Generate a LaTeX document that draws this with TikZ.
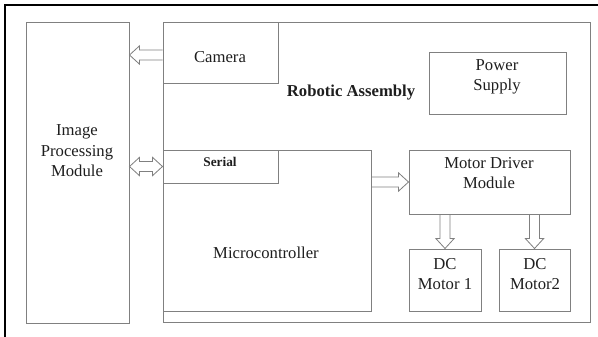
\documentclass[tikz,border=0pt]{standalone}
\usepackage{fontspec}
\setmainfont{Liberation Serif}
\usetikzlibrary{calc}
\definecolor{boxgray}{RGB}{128,128,128}
\definecolor{txtdark}{RGB}{30,30,30}

\begin{document}
\begin{tikzpicture}[x=0.6pt, y=-0.6pt,
         box/.style={draw=boxgray, line width=0.6pt, rectangle, inner sep=0pt},
         box text/.style={font=\fontsize{10}{12.3}\selectfont, text=txtdark, align=center},
         hollow arrow/.style={draw=boxgray, line width=0.5pt, line join=miter,
            to path={($(\tikztostart)!3pt!90:(\tikztotarget)$)
               -- ($(\tikztotarget)!6pt!(\tikztostart)!3pt!90:(\tikztotarget)$)
               -- ($(\tikztotarget)!6pt!(\tikztostart)!5.5pt!90:(\tikztotarget)$)
               -- (\tikztotarget)
               -- ($(\tikztotarget)!6pt!(\tikztostart)!5.5pt!-90:(\tikztotarget)$)
               -- ($(\tikztotarget)!6pt!(\tikztostart)!3pt!-90:(\tikztotarget)$)
               -- ($(\tikztostart)!3pt!-90:(\tikztotarget)$)}},
         hollow both/.style={draw=boxgray, line width=0.5pt, line join=miter,
            to path={(\tikztostart)
               -- ($(\tikztostart)!6pt!(\tikztotarget)!5.5pt!90:(\tikztotarget)$)
               -- ($(\tikztostart)!6pt!(\tikztotarget)!3pt!90:(\tikztotarget)$)
               -- ($(\tikztotarget)!6pt!(\tikztostart)!3pt!-90:(\tikztostart)$)
               -- ($(\tikztotarget)!6pt!(\tikztostart)!5.5pt!-90:(\tikztostart)$)
               -- (\tikztotarget)
               -- ($(\tikztotarget)!6pt!(\tikztostart)!5.5pt!90:(\tikztostart)$)
               -- ($(\tikztotarget)!6pt!(\tikztostart)!3pt!90:(\tikztostart)$)
               -- ($(\tikztostart)!6pt!(\tikztotarget)!3pt!-90:(\tikztotarget)$)
               -- ($(\tikztostart)!6pt!(\tikztotarget)!5.5pt!-90:(\tikztotarget)$)
               -- cycle}}
      ]
   \clip (0,0) rectangle (598,336);
   \draw[line width=1.2pt] (4.5,4.5) rectangle (640,380);

   % boxes
   \node[box, minimum width=61.8pt, minimum height=180.6pt] (ipm) at (77.5,172.5) {};
   \node[box, minimum width=256.2pt, minimum height=180pt] (robot) at (376.5,172) {};
   \node[box, minimum width=69pt, minimum height=36.6pt] (cam) at (220.5,52.5) {};
   \node[box, minimum width=124.8pt, minimum height=96.6pt] (mcu) at (267,230.5) {};
   \node[box, minimum width=69pt, minimum height=19.8pt] (serial) at (220.5,166.5) {};
   \node[box, minimum width=82.2pt, minimum height=37.2pt] (power) at (497.5,83) {};
   \node[box, minimum width=96.6pt, minimum height=38.4pt] (drv) at (489.5,182) {};
   \node[box, minimum width=43.2pt, minimum height=37.2pt] (dc1) at (445,280) {};
   \node[box, minimum width=42.6pt, minimum height=37.2pt] (dc2) at (534.5,280) {};

   % texts
   \node[box text] (ipmL) at (77,151) {Image\\Processing\\Module};
   \node[box text] (robotL) at (351,93) {\bfseries Robotic Assembly};
   \node[box text] (camL) at (220,57) {Camera};
   \node[box text, font=\fontsize{8}{10}\selectfont\bfseries] (serialL) at (220,162) {Serial};
   \node[box text] (mcuL) at (266,253) {Microcontroller};
   \node[box text] (powerL) at (497,77) {Power\\Supply};
   \node[box text] (drvL) at (489,173) {Motor Driver\\Module};
   \node[box text] (dc1L) at (445,274) {DC\\Motor 1};
   \node[box text] (dc2L) at (535,274) {DC\\Motor2};

   % arrow ends
   \coordinate (camOut) at ([yshift=-1.5pt]cam.west);
   \coordinate (ipmIn) at (camOut -| ipm.east);
   \coordinate (ipmSer) at (serial.west -| ipm.east);
   \coordinate (mcuOut) at (drv.west -| mcu.east);
   \coordinate (drvOut1) at (dc1.north |- drv.south);
   \coordinate (drvOut2) at (dc2.north |- drv.south);

   % links
   \draw[hollow arrow] (camOut) to (ipmIn);
   \draw[hollow both] (ipmSer) to (serial.west);
   \draw[hollow arrow] (mcuOut) to (drv.west);
   \draw[hollow arrow] (drvOut1) to (dc1.north);
   \draw[hollow arrow] (drvOut2) to (dc2.north);
\end{tikzpicture}
\end{document}
